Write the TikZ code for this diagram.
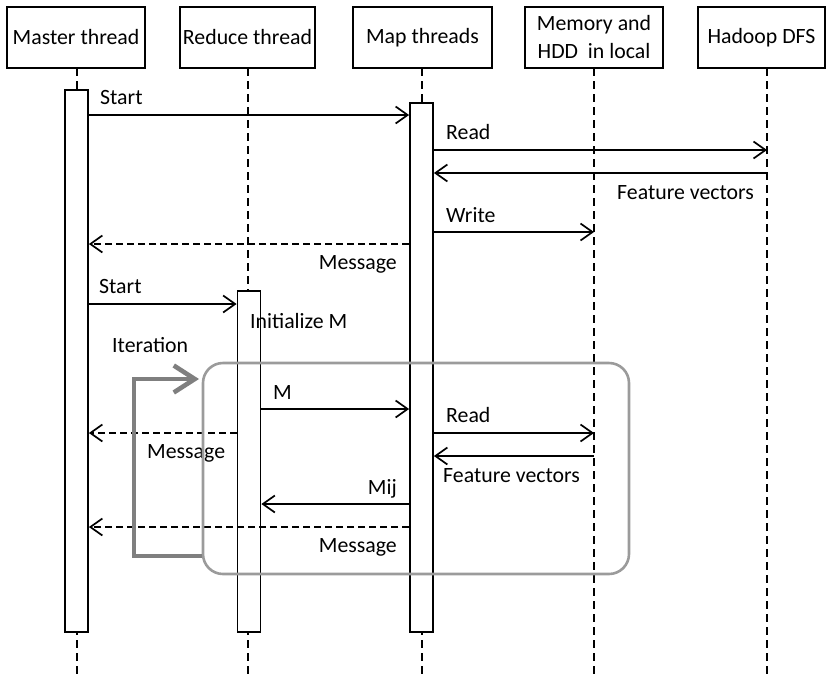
\documentclass[tikz,border=0pt]{standalone}
\usepackage{fontspec}
\setmainfont{Carlito}
\usetikzlibrary{arrows.meta,calc}
\definecolor{loopgray}{HTML}{9B9B9B}
\definecolor{itergray}{HTML}{7F7F7F}
\begin{document}
\begin{tikzpicture}[x=1pt,y=-1pt,
  hdr/.style={draw,line width=1.8pt,minimum height=61pt,inner sep=0pt,align=center,font=\fontsize{21.8}{28}\selectfont},
  act/.style={draw,fill=white,line width=1.8pt,inner sep=0pt,minimum width=23pt},
  life/.style={line width=1.8pt,dash pattern=on 8pt off 5pt},
  msg/.style={line width=1.7pt,-{Straight Barb[length=12pt,width=17pt]}},
  ret/.style={msg,dash pattern=on 7pt off 4pt},
  lbl/.style={font=\fontsize{21.8}{26}\selectfont,inner sep=0pt},
  loopbox/.style={draw=loopgray,line width=2.6pt,rounded corners=20pt,inner sep=0pt},
  iter/.style={draw=itergray,line width=4.6pt,-{Straight Barb[length=21pt,width=27pt]}},
]
\useasboundingbox (0,0) rectangle (827,678);

% headers
\node[hdr,minimum width=138pt] (hM) at (76,37.5) {Master thread};
\node[hdr,minimum width=135pt] (hR) at (247.5,37.5) {Reduce thread};
\node[hdr,minimum width=139pt] (hP) at (422.5,37.5) {Map threads};
\node[hdr,minimum width=138pt] (hL) at (594,37.5) {Memory and\\HDD\ \ in local};
\node[hdr,minimum width=127pt] (hH) at (761.5,37.5) {Hadoop DFS};

% lifelines
\coordinate (lMt) at (77,68);  \coordinate (lMb) at (77,678);
\coordinate (lRt) at (248,68); \coordinate (lRb) at (248,678);
\coordinate (lPt) at (422,68); \coordinate (lPb) at (422,678);
\coordinate (lLt) at (594,68); \coordinate (lLb) at (594,678);
\coordinate (lHt) at (767,68); \coordinate (lHb) at (767,678);
\draw[life] (lMt) -- (lMb);
\draw[life] (lRt) -- (lRb);
\draw[life] (lPt) -- (lPb);
\draw[life] (lLt) -- (lLb);
\draw[life] (lHt) -- (lHb);

% activation boxes
\node[act,minimum height=542pt] (aM) at (76.5,361) {};
\node[act,minimum height=341pt] (aR) at (249,461.5) {};
\node[act,minimum height=529pt] (aP) at (421.5,367.5) {};

% messages
\draw[msg] (aM.east |- 0,115) -- (aP.west |- 0,115);
\node[lbl,anchor=base west] (t1) at (100,104) {Start};
\draw[msg] (aP.east |- 0,150) -- (lHb |- 0,150);
\node[lbl,anchor=base west] (t2) at (446,139) {Read};
\draw[msg] (lHb |- 0,173) -- (aP.east |- 0,173);
\node[lbl,anchor=base west] (t3) at (617,199) {Feature vectors};
\draw[msg] (aP.east |- 0,232) -- (lLb |- 0,232);
\node[lbl,anchor=base west] (t4) at (446,222) {Write};
\draw[ret] (aP.west |- 0,244) -- (aM.east |- 0,244);
\node[lbl,anchor=base east] (t5) at (397,269) {Message};
\draw[msg] (aM.east |- 0,304) -- (aR.west |- 0,304);
\node[lbl,anchor=base west] (t6) at (99,293) {Start};
\node[lbl,anchor=base west] (t7) at (250,328) {Initialize M};
\node[lbl,anchor=base west] (t8) at (112,352) {Iteration};

\draw[msg] (aR.east |- 0,409) -- (aP.west |- 0,409);
\node[lbl,anchor=base west] (t9) at (273,399) {M};
\draw[ret] (aR.west |- 0,433) -- (aM.east |- 0,433);
\node[lbl,anchor=base west] (t10) at (147,458) {Message};
\draw[msg] (aP.east |- 0,433) -- (lLb |- 0,433);
\node[lbl,anchor=base west] (t11) at (446,422) {Read};
\draw[msg] (lLb |- 0,456) -- (aP.east |- 0,456);
\node[lbl,anchor=base west] (t12) at (443,482) {Feature vectors};
\draw[msg] (aP.west |- 0,504) -- (aR.east |- 0,504);
\node[lbl,anchor=base east] (t13) at (397,494) {Mij};
\draw[ret] (aP.west |- 0,527) -- (aM.east |- 0,527);
\node[lbl,anchor=base east] (t14) at (397,552) {Message};

% iteration loop
\node[loopbox,minimum width=426pt,minimum height=211pt] (loop) at (416,468.5) {};
\coordinate (itc1) at (134,556);
\coordinate (itc2) at (134,379);
\coordinate (itend) at (199,379);
\draw[iter] (loop.west |- itc1) -- (itc1) -- (itc2) -- (itend);
\end{tikzpicture}
\end{document}
